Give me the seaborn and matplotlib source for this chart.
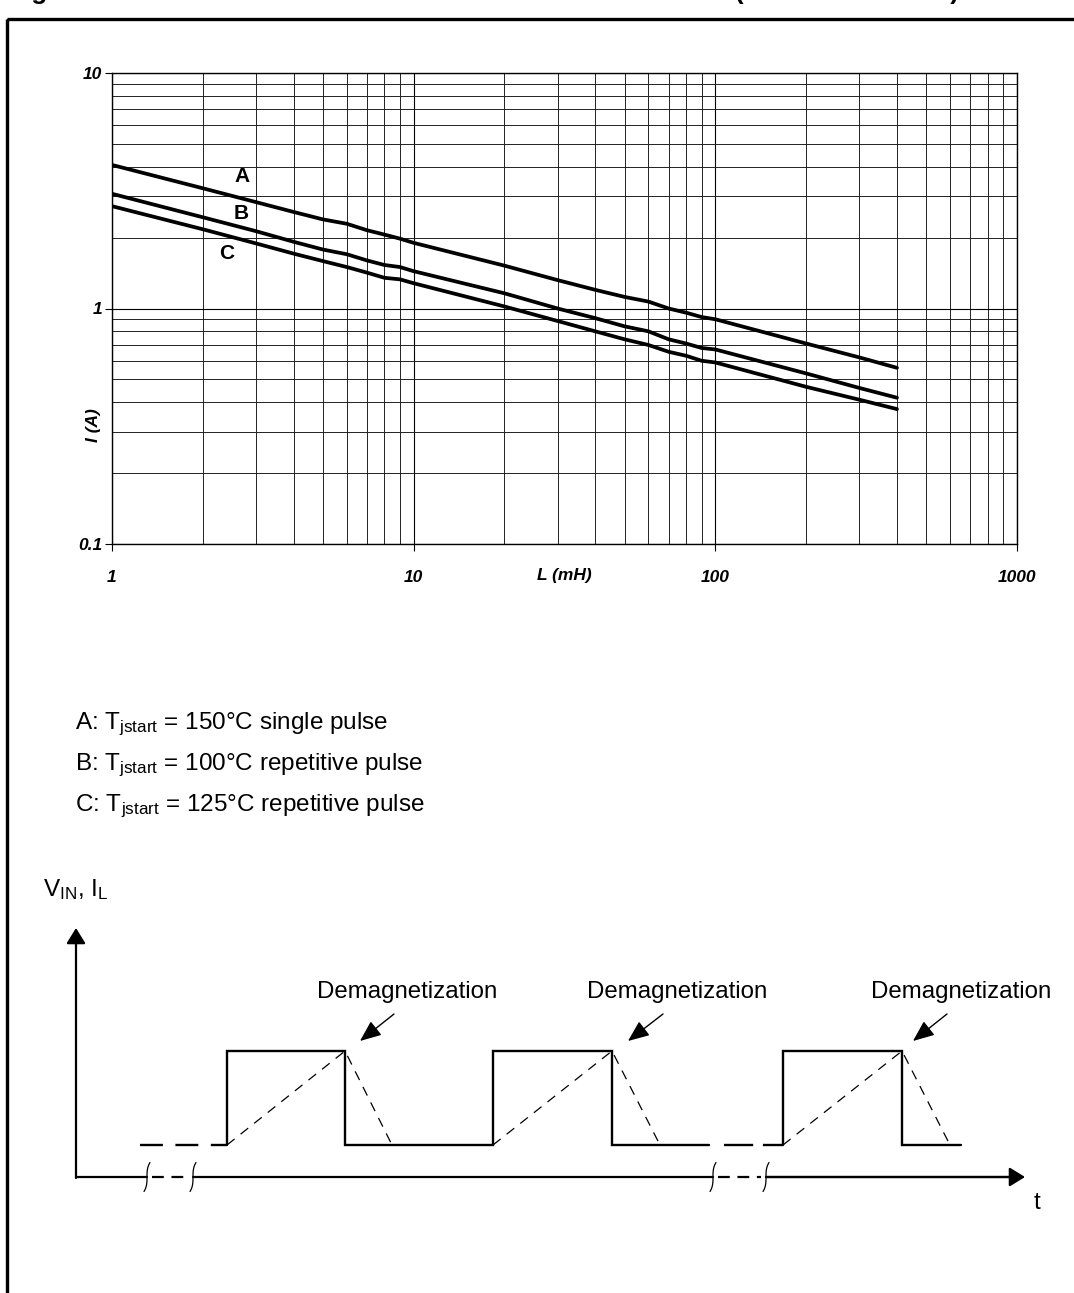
import numpy as np
import pandas as pd
import matplotlib
matplotlib.use("Agg")
import matplotlib.pyplot as plt
import seaborn as sns
from matplotlib.ticker import FixedLocator, FixedFormatter, LogLocator, NullFormatter
from matplotlib.patches import Rectangle

# ---------------- data ----------------
L_mH = [1, 2, 3, 4, 5, 6, 7, 8, 9, 10, 20, 30, 40, 50, 60, 70, 80, 90, 100, 200, 300, 400]
I_A = [4.07, 3.24, 2.83, 2.57, 2.39, 2.29, 2.15, 2.06, 1.98, 1.90, 1.52, 1.32, 1.20, 1.12,
       1.07, 1.00, 0.96, 0.92, 0.90, 0.71, 0.62, 0.56]
I_B = [3.07, 2.44, 2.13, 1.92, 1.78, 1.70, 1.60, 1.53, 1.50, 1.44, 1.16, 1.00, 0.91, 0.84,
       0.80, 0.74, 0.71, 0.68, 0.67, 0.53, 0.46, 0.418]
I_C = [2.72, 2.17, 1.89, 1.71, 1.59, 1.50, 1.42, 1.35, 1.33, 1.28, 1.02, 0.885, 0.80, 0.74,
       0.70, 0.655, 0.63, 0.60, 0.59, 0.465, 0.41, 0.374]
curve_names = ["A", "B", "C"]
x_ticks = [1, 10, 100, 1000]
x_tick_labels = ["1", "10", "100", "1000"]
y_ticks = [0.1, 1, 10]
y_tick_labels = ["0.1", "1", "10"]
legend_lines = [
    r"A: T$_{\mathregular{jstart}}$ = 150°C single pulse",
    r"B: T$_{\mathregular{jstart}}$ = 100°C repetitive pulse",
    r"C: T$_{\mathregular{jstart}}$ = 125°C repetitive pulse",
]
title_parts = ["Figure 26. Maximum turn-off current versus inductance", "(for each channel)"]

# ---------------- timing schematic (schematic units) ----------------
LOW, HIGH = 1145, 1051
vin_solid_1_x = [227, 227, 345, 345, 493, 493, 612, 612, 709]
vin_solid_1_y = [LOW, HIGH, HIGH, LOW, LOW, HIGH, HIGH, LOW, LOW]
vin_solid_2_x = [783, 783, 902, 902, 961]
vin_solid_2_y = [LOW, HIGH, HIGH, LOW, LOW]
vin_gap_x = [[140, 227], [724, 783]]
il_ramps_x = [[227, 345, 392], [493, 612, 660], [783, 902, 950]]
il_ramps_y = [LOW, HIGH, LOW]
axis_breaks_x = [[147, 193], [713, 766]]
demag_tips = [(360, 1041), (628, 1041), (913, 1041)]
demag_tails = [(394, 1014), (663, 1014), (947, 1014)]
demag_text_x = [407, 677, 961]

# ---------------- style ----------------
sns.set_theme(style="white")
plt.rcParams["font.family"] = ["Liberation Sans", "DejaVu Sans"]
plt.rcParams["mathtext.fontset"] = "custom"
plt.rcParams["mathtext.rm"] = "Liberation Sans"
plt.rcParams["mathtext.it"] = "Liberation Sans:italic"
plt.rcParams["mathtext.bf"] = "Liberation Sans:bold"
plt.rcParams["lines.scale_dashes"] = False

W, H = 1074, 1293
fig = plt.figure(figsize=(W / 100, H / 100), dpi=100)
fig.patch.set_facecolor("white")

# ---------------- main log-log chart ----------------
left, right, top, bottom = 112, 1017, 73, 544
ax = fig.add_axes([left / W, 1 - bottom / H, (right - left) / W, (bottom - top) / H])

df = pd.DataFrame({
    "L": L_mH * 3,
    "I": I_A + I_B + I_C,
    "curve": sum([[n] * len(L_mH) for n in curve_names], []),
})
sns.lineplot(data=df, x="L", y="I", hue="curve", palette=["black"] * 3,
             legend=False, linewidth=2.7, ax=ax, estimator=None, sort=False)

ax.set_xscale("log")
ax.set_yscale("log")
ax.set_xlim(1, 1000)
ax.set_ylim(0.1, 10)
ax.xaxis.set_major_locator(FixedLocator(x_ticks))
ax.xaxis.set_major_formatter(FixedFormatter(x_tick_labels))
ax.yaxis.set_major_locator(FixedLocator(y_ticks))
ax.yaxis.set_major_formatter(FixedFormatter(y_tick_labels))
ax.xaxis.set_minor_locator(LogLocator(base=10, subs=np.arange(2, 10)))
ax.yaxis.set_minor_locator(LogLocator(base=10, subs=np.arange(2, 10)))
ax.xaxis.set_minor_formatter(NullFormatter())
ax.yaxis.set_minor_formatter(NullFormatter())
ax.grid(True, which="major", color="black", linewidth=0.8)
ax.grid(True, which="minor", color="#222222", linewidth=0.7)
ax.set_axisbelow(True)
for s in ax.spines.values():
    s.set_color("black")
    s.set_linewidth(1.0)
ax.tick_params(which="major", direction="out", length=5, width=0.8, color="black",
               bottom=True, left=True)
ax.tick_params(axis="x", which="major", pad=14)
ax.tick_params(axis="y", which="major", pad=2)
ax.tick_params(which="minor", length=0)
for lab in ax.get_xticklabels() + ax.get_yticklabels():
    lab.set_fontsize(12.5)
    lab.set_fontweight("bold")
    lab.set_fontstyle("italic")
    lab.set_color("black")
ax.set_xlabel("L (mH)", fontsize=12.5, fontweight="bold", fontstyle="italic", color="black")
ax.xaxis.set_label_coords(0.5, -0.066)
ax.xaxis.label.set_va("center")
ax.set_ylabel("I (A)", fontsize=12.5, fontweight="bold", fontstyle="italic", color="black")
ax.yaxis.set_label_coords(-0.02, 0.253)
ax.yaxis.label.set_va("center")

for name, (lx, ly) in zip(curve_names, [(2.69, 3.64), (2.69, 2.53), (2.40, 1.71)]):
    ax.text(lx, ly, name, fontsize=15, fontweight="bold", ha="center", va="center", color="black")

# ---------------- overlay for frame, legend text and schematic ----------------
ov = fig.add_axes([0, 0, 1, 1], zorder=5)
ov.set_xlim(0, W)
ov.set_ylim(H, 0)
ov.axis("off")
ov.patch.set_alpha(0)

ov.add_patch(Rectangle((7, 19), W + 20, H + 20, fill=False, edgecolor="black", linewidth=2.4,
                       clip_on=False))
# title of the datasheet figure, cut by the top edge as in the reference
for tx, part in zip([8, 735], title_parts):
    ov.text(tx, -1.5, part, fontsize=18.7, fontweight="bold", ha="left", va="baseline",
            color="black", clip_on=False)

for i, txt in enumerate(legend_lines):
    ov.text(75, 729 + 41 * i, txt, fontsize=17.5, ha="left", va="baseline", color="black")

ov.text(43, 896, r"V$_{\mathregular{IN}}$, I$_{\mathregular{L}}$", fontsize=17.5, ha="left",
        va="baseline", color="black")

sig_lw = 1.7
ov.plot(vin_solid_1_x, vin_solid_1_y, color="black", lw=sig_lw, solid_joinstyle="miter")
ov.plot(vin_solid_2_x, vin_solid_2_y, color="black", lw=sig_lw, solid_joinstyle="miter")
ov.plot(vin_gap_x[0], [LOW, LOW], color="black", lw=sig_lw, linestyle=(0, (16.5, 9)))
ov.plot(vin_gap_x[1], [LOW, LOW], color="black", lw=sig_lw, linestyle=(0, (21, 7)))
for rx in il_ramps_x:
    ov.plot(rx, il_ramps_y, color="black", lw=0.9, linestyle=(0, (7, 5.5)))

# axes of schematic
AX_Y, AX_X = 1177, 76
segs = [AX_X] + [v for pair in axis_breaks_x for v in pair] + [1012]
ov.plot([segs[0], segs[1]], [AX_Y, AX_Y], color="black", lw=1.6)
ov.plot([segs[2], segs[3]], [AX_Y, AX_Y], color="black", lw=1.6)
ov.plot([segs[4], segs[5]], [AX_Y, AX_Y], color="black", lw=1.6)
for bx0, bx1 in axis_breaks_x:
    ov.plot([bx0 + 5, bx1 - 5], [AX_Y, AX_Y], color="black", lw=1.6, linestyle=(0, (8.5, 5.5)))
    t = np.linspace(-1, 1, 40)
    for bx in (bx0, bx1):
        ov.plot(bx - 3 * t ** 3, AX_Y + 14.5 * t, color="black", lw=0.9)
ov.annotate("", xy=(1025, AX_Y), xytext=(segs[4], AX_Y),
            arrowprops=dict(arrowstyle="-|>,head_length=0.47,head_width=0.29", lw=1.6,
                            color="black", mutation_scale=20, shrinkA=0, shrinkB=0))
ov.annotate("", xy=(AX_X, 928), xytext=(AX_X, AX_Y + 1),
            arrowprops=dict(arrowstyle="-|>,head_length=0.47,head_width=0.29", lw=1.6,
                            color="black", mutation_scale=20, shrinkA=0, shrinkB=0))
ov.text(1037, 1203, "t", fontsize=17.5, ha="center", va="center", color="black")

for (tx, ty), (sx, sy), cx in zip(demag_tips, demag_tails, demag_text_x):
    ov.annotate("", xy=(tx, ty), xytext=(sx, sy),
                arrowprops=dict(arrowstyle="-|>,head_length=0.65,head_width=0.27", lw=1.0,
                                color="black", mutation_scale=20, shrinkA=0, shrinkB=0))
    ov.text(cx, 992, "Demagnetization", fontsize=17.3, ha="center", va="center", color="black")

fig.savefig("out.png", dpi=100, facecolor="white")
